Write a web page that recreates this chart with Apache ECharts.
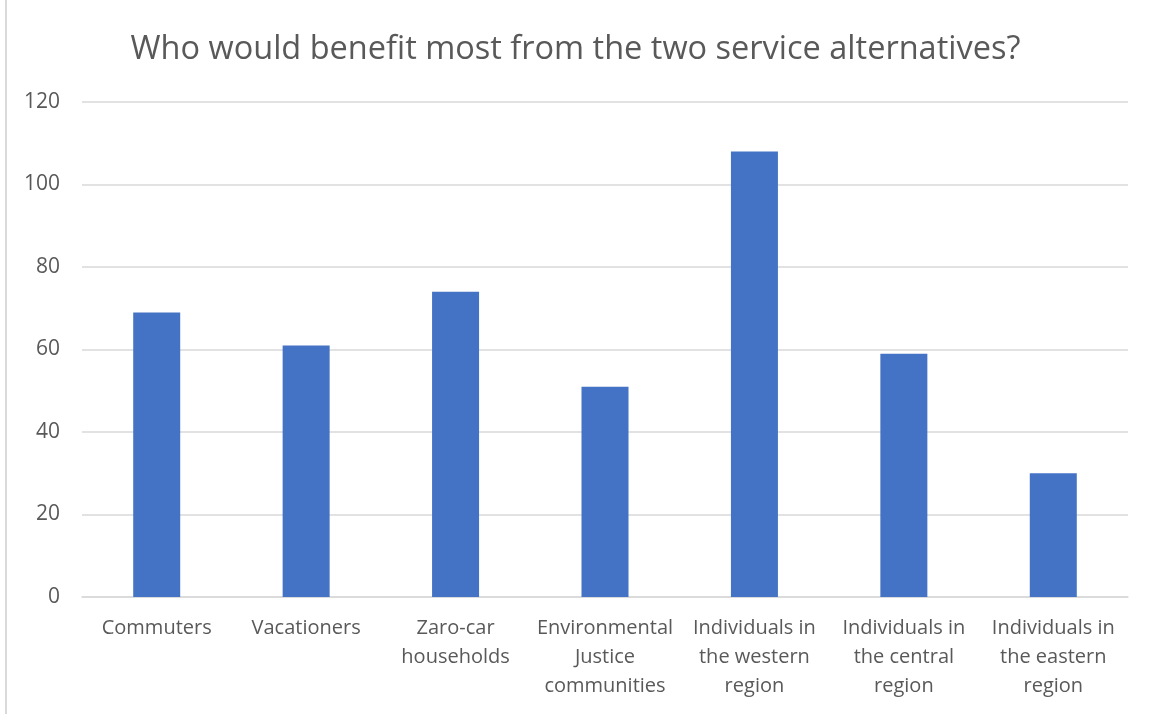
<!DOCTYPE html>
<html><head><meta charset="utf-8">
<script src="https://cdn.jsdelivr.net/npm/echarts@6/dist/echarts.min.js"></script>
<style>html,body{margin:0;padding:0;background:#fff}#c{width:1151px;height:714px}</style>
</head><body><div id="c"></div>
<script>
var titleText = 'Who would benefit most from the two service alternatives?';
var categories = ['Commuters','Vacationers','Zaro-car\nhouseholds','Environmental\nJustice\ncommunities','Individuals in\nthe western\nregion','Individuals in\nthe central\nregion','Individuals in\nthe eastern\nregion'];
var values = [69, 61, 74, 51, 108, 59, 30];
var yTicks = {min: 0, max: 120, interval: 20};

var chart = echarts.init(document.getElementById('c'));
chart.setOption({
  animation: false,
  backgroundColor: '#fff',
  title: {text: titleText, left: 'center', top: 28,
    textStyle: {fontFamily: 'Open Sans', fontSize: 32.5, fontWeight: 'normal', color: '#595959'}},
  graphic: [{type: 'line', shape: {x1: 6, y1: 0, x2: 6, y2: 714}, style: {stroke: '#d9d9d9', lineWidth: 2}}],
  grid: {left: 82, right: 23, top: 102, bottom: 117},
  xAxis: {type: 'category', data: categories,
    axisLine: {lineStyle: {color: '#d9d9d9', width: 1.5}}, axisTick: {show: false},
    axisLabel: {color: '#595959', fontFamily: 'Open Sans', fontSize: 20, lineHeight: 29, margin: 17, interval: 0}},
  yAxis: {type: 'value', min: yTicks.min, max: yTicks.max, interval: yTicks.interval,
    axisLine: {show: false}, axisTick: {show: false},
    splitLine: {lineStyle: {color: '#d9d9d9', width: 1.5}},
    axisLabel: {color: '#595959', fontFamily: 'Open Sans', fontSize: 21, margin: 22}},
  series: [{type: 'bar', data: values, barWidth: 47, itemStyle: {color: '#4472c4'}}]
});
</script></body></html>
